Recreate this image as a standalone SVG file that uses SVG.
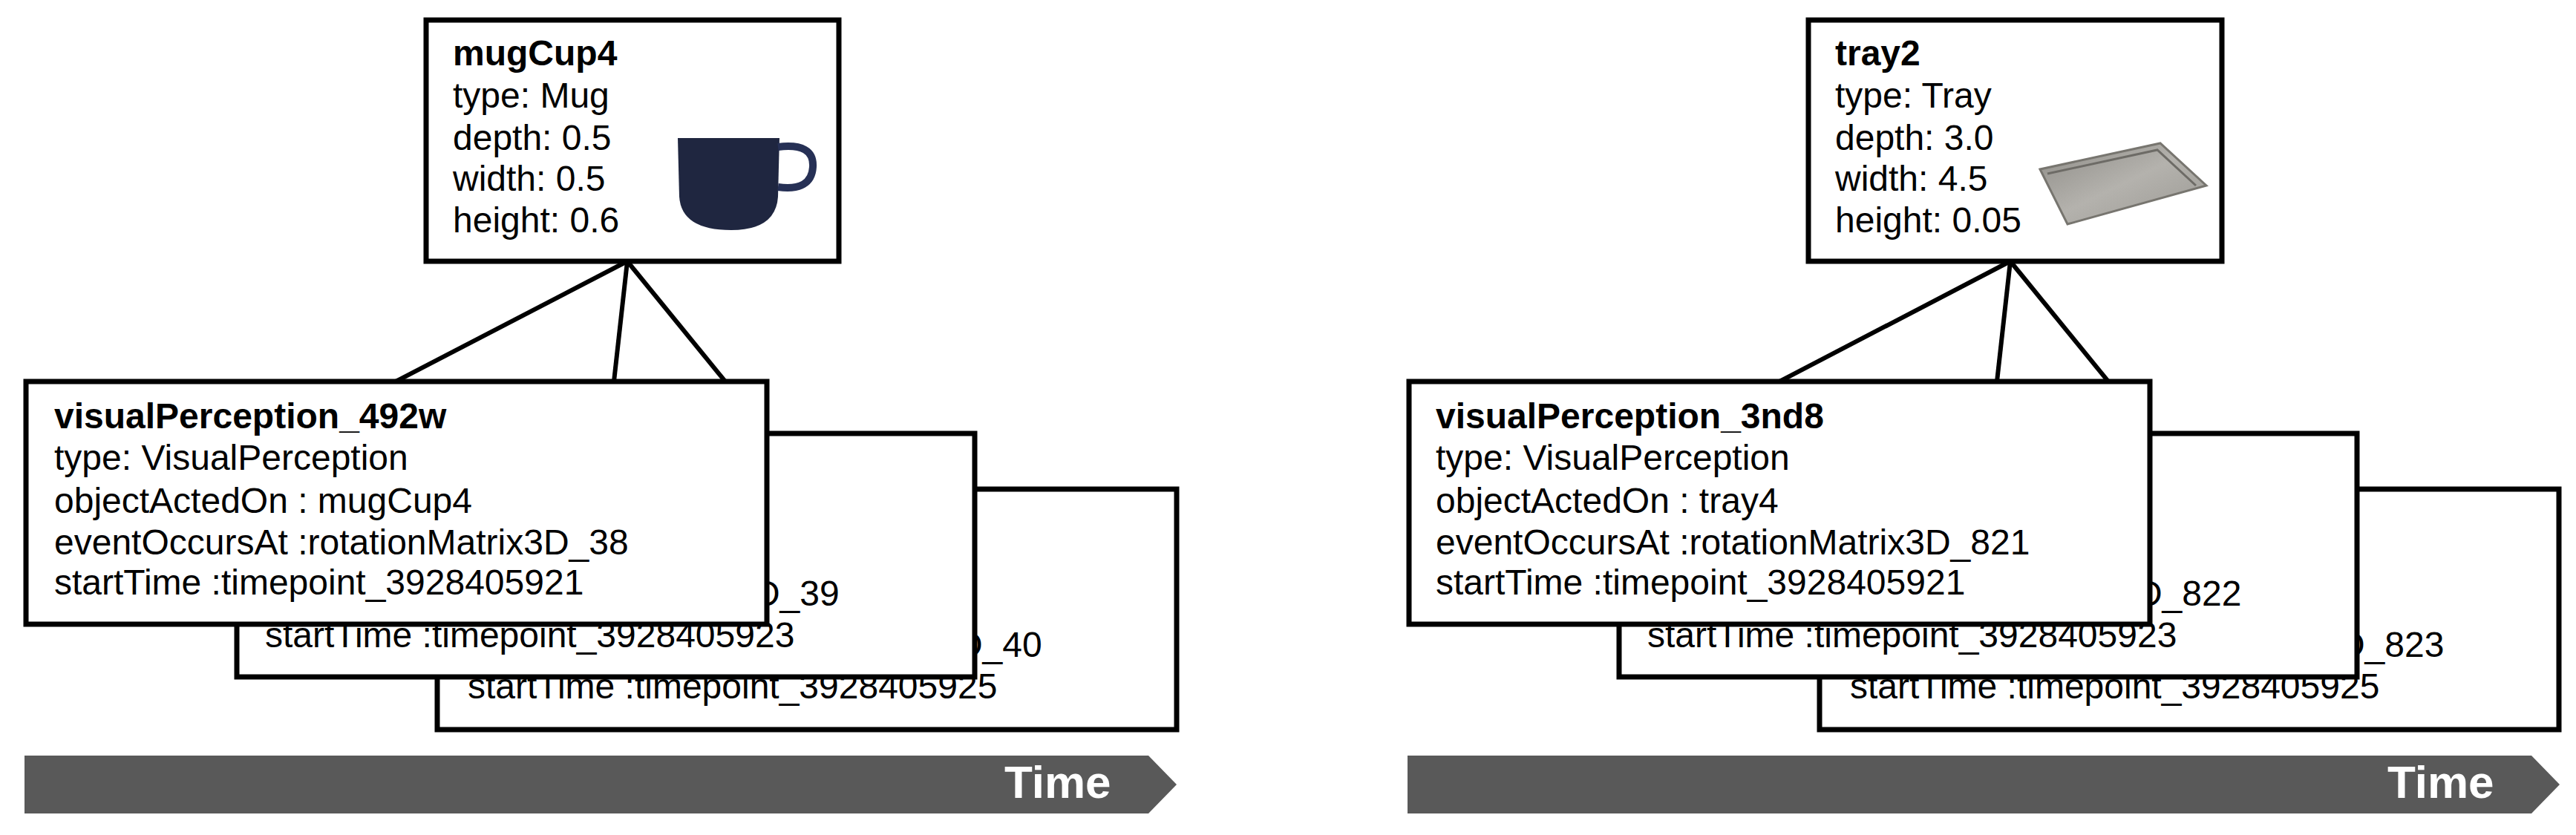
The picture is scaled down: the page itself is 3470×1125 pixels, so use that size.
<svg xmlns="http://www.w3.org/2000/svg" width="3470" height="1125" viewBox="0 0 3470 1125">
<style>
.box{fill:#fff;stroke:#000;stroke-width:7}
.t{font-family:"Liberation Sans",Arial,sans-serif;font-size:48px;fill:#000}
.b{font-weight:bold}
.conn{stroke:#000;stroke-width:6;fill:none}
.bar{fill:#595959}
.time{font-family:"Liberation Sans",Arial,sans-serif;font-size:62px;font-weight:bold;fill:#fff}
</style>
<defs>
<linearGradient id="tg" x1="0" y1="0" x2="1" y2="1"><stop offset="0" stop-color="#8d8b86"/><stop offset="0.5" stop-color="#b4b2ad"/><stop offset="1" stop-color="#9a9893"/></linearGradient>
</defs>

<!-- LEFT -->
<g id="connectors-left">
<line class="conn" x1="845" y1="352" x2="533" y2="514" stroke-width="8"/>
<line class="conn" x1="845" y1="352" x2="827" y2="514"/>
<line class="conn" x1="845" y1="352" x2="977" y2="514"/>
</g>
<g id="mugCup4">
<rect class="box" x="574" y="27" width="556" height="325"/>
<text class="t b" x="610" y="88">mugCup4</text>
<text class="t" x="610" y="145">type: Mug</text>
<text class="t" x="610" y="202">depth: 0.5</text>
<text class="t" x="610" y="257">width: 0.5</text>
<text class="t" x="610" y="313">height: 0.6</text>
<path d="M913 186 L1050 186 L1048 265 Q1045 310 985 310 Q918 310 915 265 Z" fill="#1f2640"/>
<path d="M1048 198 Q1097 192 1095 225 Q1093 258 1048 252" fill="none" stroke="#263055" stroke-width="10"/>
</g>
<g id="vp3-left">
<rect class="box" x="589" y="659" width="996" height="324"/>
<text class="t" x="630" y="885">eventOccursAt :rotationMatrix3D_40</text>
<text class="t" x="630" y="941">startTime :timepoint_3928405925</text>
</g>
<g id="vp2-left">
<rect class="box" x="319" y="584" width="994" height="328"/>
<text class="t" x="357" y="816">eventOccursAt :rotationMatrix3D_39</text>
<text class="t" x="357" y="872">startTime :timepoint_3928405923</text>
</g>
<g id="vp1-left">
<rect class="box" x="35" y="514" width="998" height="327"/>
<text class="t b" x="73" y="577">visualPerception_492w</text>
<text class="t" x="73" y="633">type: VisualPerception</text>
<text class="t" x="73" y="691">objectActedOn : mugCup4</text>
<text class="t" x="73" y="747">eventOccursAt :rotationMatrix3D_38</text>
<text class="t" x="73" y="801">startTime :timepoint_3928405921</text>
</g>
<g id="time-left">
<path class="bar" d="M33 1018 L1547 1018 L1585 1057 L1547 1096 L33 1096 Z"/>
<text class="time" x="1353" y="1075">Time</text>
</g>

<!-- RIGHT -->
<g id="connectors-right">
<line class="conn" x1="2708" y1="352" x2="2397" y2="514" stroke-width="8"/>
<line class="conn" x1="2708" y1="352" x2="2690" y2="514"/>
<line class="conn" x1="2708" y1="352" x2="2840" y2="514"/>
</g>
<g id="tray2">
<rect class="box" x="2436" y="27" width="557" height="325"/>
<text class="t b" x="2472" y="88">tray2</text>
<text class="t" x="2472" y="145">type: Tray</text>
<text class="t" x="2472" y="202">depth: 3.0</text>
<text class="t" x="2472" y="257">width: 4.5</text>
<text class="t" x="2472" y="313">height: 0.05</text>
<path d="M2748 228 L2910 193 L2972 250 L2785 302 Z" fill="url(#tg)" stroke="#77756f" stroke-width="3"/>
<path d="M2758 234 L2906 202 L2958 250" fill="none" stroke="#6d6b66" stroke-width="3"/>
</g>
<g id="vp3-right">
<rect class="box" x="2451" y="659" width="996" height="324"/>
<text class="t" x="2492" y="885">eventOccursAt :rotationMatrix3D_823</text>
<text class="t" x="2492" y="941">startTime :timepoint_3928405925</text>
</g>
<g id="vp2-right">
<rect class="box" x="2181" y="584" width="994" height="328"/>
<text class="t" x="2219" y="816">eventOccursAt :rotationMatrix3D_822</text>
<text class="t" x="2219" y="872">startTime :timepoint_3928405923</text>
</g>
<g id="vp1-right">
<rect class="box" x="1898" y="514" width="998" height="327"/>
<text class="t b" x="1934" y="577">visualPerception_3nd8</text>
<text class="t" x="1934" y="633">type: VisualPerception</text>
<text class="t" x="1934" y="691">objectActedOn : tray4</text>
<text class="t" x="1934" y="747">eventOccursAt :rotationMatrix3D_821</text>
<text class="t" x="1934" y="801">startTime :timepoint_3928405921</text>
</g>
<g id="time-right">
<path class="bar" d="M1896 1018 L3410 1018 L3448 1057 L3410 1096 L1896 1096 Z"/>
<text class="time" x="3216" y="1075">Time</text>
</g>
</svg>
